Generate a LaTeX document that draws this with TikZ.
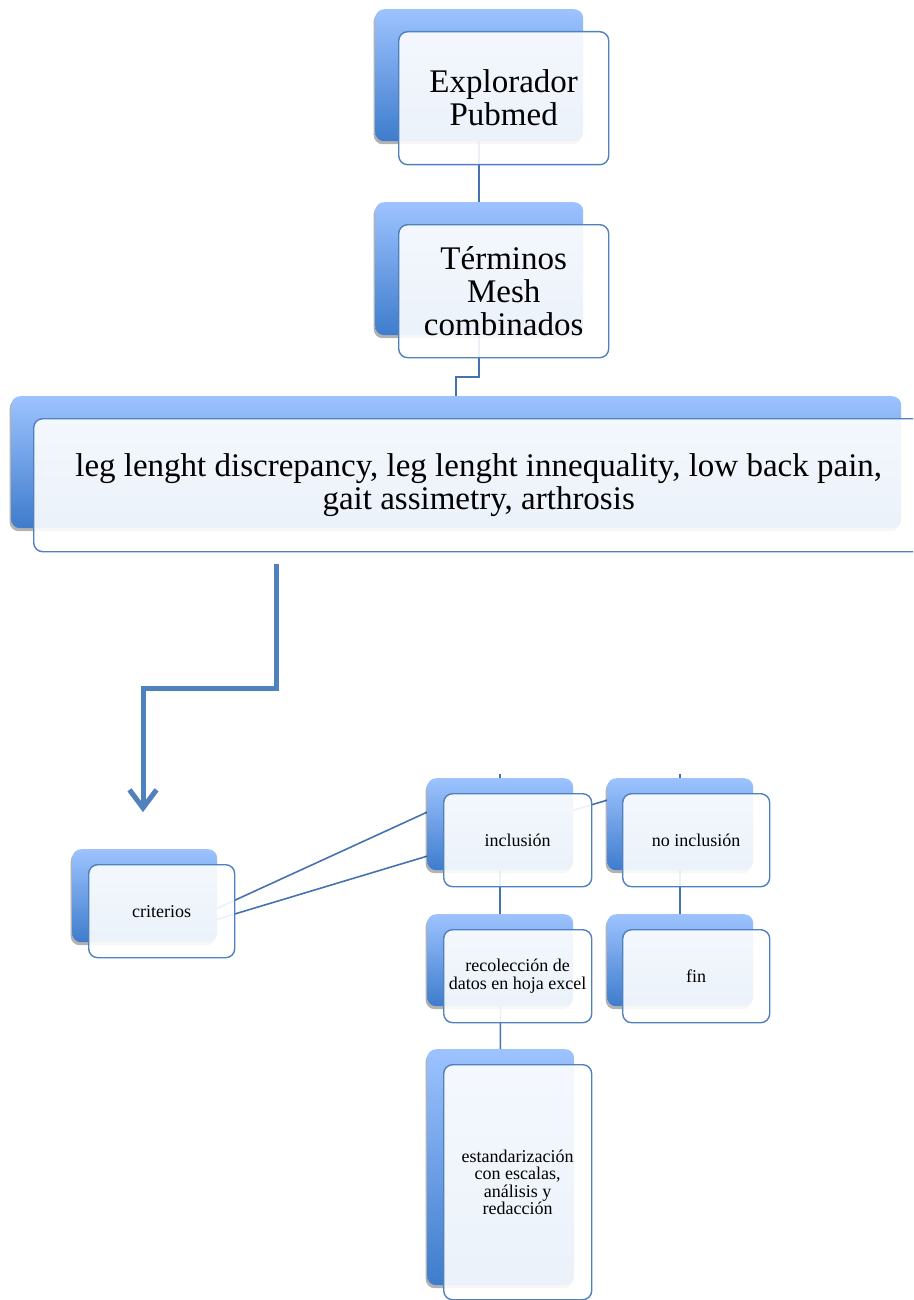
\documentclass[tikz,border=0pt]{standalone}
\usepackage{fontspec}
\setmainfont{Liberation Serif}
\usetikzlibrary{arrows.meta,shadows,calc}
\definecolor{bktop}{RGB}{157,195,255}
\definecolor{bkbot}{RGB}{62,124,204}
\definecolor{edge}{RGB}{79,129,189}
\definecolor{linec}{RGB}{70,114,175}
\pgfdeclarelayer{bg}
\pgfsetlayers{bg,main}
\tikzset{
  sz/.style 2 args={minimum width=#1pt, minimum height=#2pt},
  backbox/.style={rounded corners=9pt, top color=bktop, bottom color=bkbot, draw=none,
    inner sep=0pt, anchor=north west,
    drop shadow={shadow xshift=-1.5pt, shadow yshift=-3pt, opacity=0.3, fill=black}},
  frontbox/.style={rounded corners=9pt, draw=edge, line width=1.4pt, fill=white,
    fill opacity=0.9, text opacity=1, inner sep=0pt, anchor=north west, align=center},
  bigtxt/.style={font=\fontsize{33}{33}\selectfont},
  smalltxt/.style={font=\fontsize{18}{17.5}\selectfont},
  conn/.style={draw=linec, line width=1.6pt},
  bigarrow/.style={draw=edge, line width=5pt, -{Straight Barb[length=18pt,width=27pt]}},
  arrowshadow/.style={draw=black, opacity=0.15, line width=5pt, -{Straight Barb[length=18pt,width=27pt]}},
}
\begin{document}
\begin{tikzpicture}[x=1pt,y=-1pt]
\useasboundingbox (0,0) rectangle (913,1300);
\clip (0,0) rectangle (913,1300);

% box 1
\node[backbox, sz={208}{132}] (b1) at (375,9) {};
\node[frontbox, sz={210}{133}, bigtxt] (f1) at (398,31) {Explorador\\Pubmed};
% box 2
\node[backbox, sz={208}{133}] (b2) at (375,202) {};
\node[frontbox, sz={210}{133}, bigtxt] (f2) at (398,224) {Términos\\Mesh\\combinados};
% box 3
\node[backbox, sz={890}{132}] (b3) at (11,396) {};
\node[frontbox, sz={890}{133}, bigtxt] (f3) at (33,418) {leg lenght discrepancy, leg lenght innequality, low back pain,\\gait assimetry, arthrosis};
% criterios
\node[backbox, sz={145}{93}] (bc) at (72,849) {};
\node[frontbox, sz={146}{93}, smalltxt] (fc) at (88,864) {criterios};
% inclusion
\node[backbox, sz={146}{92}] (bi) at (427,778) {};
\node[frontbox, sz={148}{93}, smalltxt] (fi) at (443,793) {inclusión};
% no inclusion
\node[backbox, sz={146}{92}] (bn) at (607,778) {};
\node[frontbox, sz={147}{93}, smalltxt] (fn) at (622,793) {no inclusión};
% recoleccion
\node[backbox, sz={146}{92}] (br) at (427,914) {};
\node[frontbox, sz={148}{93}, smalltxt] (fr) at (443,929) {recolección de\\datos en hoja excel};
% fin
\node[backbox, sz={146}{92}] (bf) at (607,914) {};
\node[frontbox, sz={147}{93}, smalltxt] (ff) at (622,929) {fin};
% estandarizacion
\node[backbox, sz={147}{236}] (be) at (427,1049) {};
\node[frontbox, sz={148}{235}, smalltxt] (fe) at (443,1064) {estandarización\\con escalas,\\análisis y\\redacción};

% connectors behind boxes
\begin{pgfonlayer}{bg}
\coordinate (k1) at (456,377);
\draw[conn] (b1.center) -- (b2.center);
\draw[conn] (b2.center) |- (k1) -- (k1 |- b3.center);
\draw[conn] ($(bc.east)+(0,12.5)$) -- ($(bi.west)+(0,-12)$);
\draw[conn] ($(bc.east)+(0,23.5)$) -- ($(bi.west)+(0,32)$);
\draw[conn] ($(bi.east)+(0,-14)$) -- ($(bn.west)+(0,-24)$);
\draw[conn] ($(bi.north)+(0,-4)$) -- (br.center);
\draw[conn] ($(bn.north)+(0,-4)$) -- (bf.center);
\draw[conn] (br.center) -- (be.center);
\end{pgfonlayer}

% big arrow
\coordinate (a0) at (276,564);
\coordinate (a1) at (143,688);
\coordinate (a2) at (143,812);
\begin{scope}[shift={(4,4)}]
\draw[arrowshadow] (a0) |- (a1) -- (a2);
\end{scope}
\draw[bigarrow] (a0) |- (a1) -- (a2);
\end{tikzpicture}
\end{document}
